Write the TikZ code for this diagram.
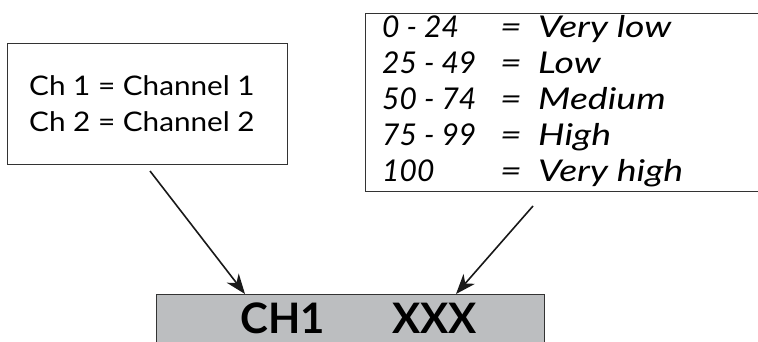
\documentclass[tikz,border=0pt]{standalone}
\usepackage{fontspec}
\setmainfont{Lato}
\newfontfamily\widefont[FakeStretch=1.1]{Lato}
\newfontfamily\wordfont[FakeStretch=1.25]{Lato}
\usetikzlibrary{arrows.meta}
\definecolor{lcd}{HTML}{BCBEC0}
\definecolor{edge}{HTML}{333333}
\tikzset{
  txt/.style={inner sep=0pt, anchor=base west, font=\widefont\fontsize{27}{27}\selectfont},
  rng/.style={inner sep=0pt, anchor=base west, font=\fontsize{30}{30}\selectfont\itshape},
  word/.style={inner sep=0pt, anchor=base west, font=\wordfont\fontsize{30}{30}\selectfont\itshape},
  pointer/.style={draw=black!90, line width=1.6pt, -{Stealth[length=20pt,width=15pt,inset=6pt]}},
  framebox/.style={draw=edge, line width=1.1pt, inner sep=0pt, anchor=north west},
  big/.style={inner sep=0pt, anchor=base west, font=\fontsize{42}{42}\selectfont\bfseries},
}
\begin{document}
\begin{tikzpicture}[x=1pt,y=-1pt]
\useasboundingbox (0,0) rectangle (758,342);
% left box
\node[framebox, minimum width=280pt, minimum height=121pt] (chbox) at (7,43) {};
\node[txt] (l1) at (29,96) {Ch 1 = Channel 1};
\node[txt] (l2) at (29,132) {Ch 2 = Channel 2};
% right box
\node[framebox, minimum width=420pt, minimum height=178pt] (rbox) at (365,13) {};
\node[rng] (r1a) at (382,38) {0 - 24};
\node[word] (r1b) at (500,38) {=};
\node[word] (r1c) at (538,38) {Very low};
\node[rng] (r2a) at (382,74) {25 - 49};
\node[word] (r2b) at (500,74) {=};
\node[word] (r2c) at (538,74) {Low};
\node[rng] (r3a) at (382,110) {50 - 74};
\node[word] (r3b) at (500,110) {=};
\node[word] (r3c) at (538,110) {Medium};
\node[rng] (r4a) at (382,146) {75 - 99};
\node[word] (r4b) at (500,146) {=};
\node[word] (r4c) at (538,146) {High};
\node[rng] (r5a) at (382,182) {100};
\node[word] (r5b) at (500,182) {=};
\node[word] (r5c) at (538,182) {Very high};
% display
\node[framebox, fill=lcd, minimum width=388pt, minimum height=80pt] (disp) at (156,294) {};
\node[big] (ch) at (240,333) {CH1};
\node[big] (xx) at (392,333) {XXX};
% arrows
\coordinate (s1) at (150,171);
\coordinate (e1) at (245,294);
\coordinate (s2) at (533,206);
\coordinate (e2) at (456,294);
\draw[pointer] (s1) -- (e1);
\draw[pointer] (s2) -- (e2);
\end{tikzpicture}
\end{document}
